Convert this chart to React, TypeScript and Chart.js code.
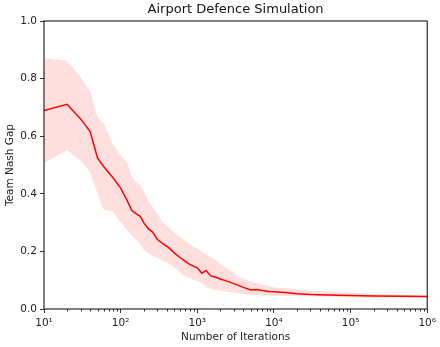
import React, { useEffect, useRef } from "react";
import { Chart, registerables } from "chart.js";

Chart.register(...registerables);

const TITLE = "Airport Defence Simulation";
const X_LABEL = "Number of Iterations";
const Y_LABEL = "Team Nash Gap";

const iterations = [
  10, 20, 30, 40, 50, 60, 80, 100, 120, 140, 160, 180, 200, 230, 260, 300, 350, 420, 500, 600,
  700, 800, 900, 1000, 1150, 1300, 1500, 1750, 2000, 2500, 3000, 3500, 4000, 5000, 6000, 7000,
  8500, 10000, 14000, 20000, 30000, 50000, 100000, 200000, 500000, 1000000,
];

const meanGap = [
  0.689, 0.711, 0.66, 0.616, 0.524, 0.495, 0.455, 0.42, 0.38, 0.342, 0.33, 0.322, 0.3, 0.278,
  0.268, 0.242, 0.228, 0.214, 0.195, 0.178, 0.165, 0.155, 0.148, 0.143, 0.124, 0.134, 0.115,
  0.11, 0.104, 0.096, 0.088, 0.081, 0.075, 0.066, 0.068, 0.064, 0.061, 0.06, 0.057, 0.053, 0.05,
  0.049, 0.047, 0.045, 0.044, 0.043,
];

const upperGap = [
  0.87, 0.862, 0.805, 0.755, 0.665, 0.645, 0.57, 0.535, 0.51, 0.46, 0.44, 0.43, 0.41, 0.375,
  0.355, 0.33, 0.305, 0.285, 0.265, 0.25, 0.235, 0.225, 0.215, 0.21, 0.2, 0.19, 0.18, 0.17,
  0.155, 0.14, 0.125, 0.112, 0.105, 0.095, 0.09, 0.085, 0.08, 0.075, 0.072, 0.068, 0.064, 0.06,
  0.056, 0.052, 0.049, 0.047,
];

const lowerGap = [
  0.507, 0.552, 0.515, 0.475, 0.4, 0.345, 0.338, 0.3, 0.275, 0.255, 0.24, 0.225, 0.205, 0.195,
  0.185, 0.178, 0.168, 0.16, 0.145, 0.125, 0.113, 0.108, 0.1, 0.096, 0.093, 0.075, 0.07, 0.066,
  0.063, 0.06, 0.057, 0.055, 0.053, 0.05, 0.049, 0.048, 0.047, 0.046, 0.045, 0.045, 0.044, 0.043,
  0.041, 0.04, 0.039, 0.039,
];

const yTicks = [0, 0.2, 0.4, 0.6, 0.8, 1.0];
const xMajorTicks = [10, 100, 1000, 10000, 100000, 1000000];
const SUP: Record<string, string> = { "1": "¹", "2": "²", "3": "³", "4": "⁴", "5": "⁵", "6": "⁶" };

const FONT = "'DejaVu Sans', sans-serif";

function isMajor(v: number) {
  return xMajorTicks.some((m) => Math.abs(m - v) < 1e-6 * m);
}

function allXTicks() {
  const out: number[] = [];
  for (let d = 0; d < xMajorTicks.length; d++) {
    const base = xMajorTicks[d];
    out.push(base);
    if (d < xMajorTicks.length - 1) for (let k = 2; k <= 9; k++) out.push(base * k);
  }
  return out;
}

export default function App() {
  const ref = useRef<HTMLCanvasElement | null>(null);
  useEffect(() => {
    document.body.style.margin = "0";
    const canvas = ref.current!;
    const framePlugin = {
      id: "frame",
      afterDatasetsDraw(chart: any) {
        const { ctx, chartArea } = chart;
        const xs = chart.scales.x;
        ctx.save();
        ctx.strokeStyle = "#000";
        ctx.lineWidth = 1;
        ctx.strokeRect(chartArea.left, chartArea.top, chartArea.right - chartArea.left, chartArea.bottom - chartArea.top);
        ctx.lineWidth = 0.8;
        for (const v of allXTicks()) {
          if (isMajor(v)) continue;
          const px = Math.round(xs.getPixelForValue(v)) + 0.5;
          ctx.beginPath();
          ctx.moveTo(px, chartArea.bottom);
          ctx.lineTo(px, chartArea.bottom + 2.5);
          ctx.stroke();
        }
        ctx.restore();
      },
      afterDraw(chart: any) {
        const { ctx, chartArea } = chart;
        ctx.save();
        ctx.fillStyle = "#111";
        ctx.font = `13px ${FONT}`;
        ctx.textAlign = "center";
        ctx.textBaseline = "middle";
        ctx.fillText(TITLE, (chartArea.left + chartArea.right) / 2, 10);
        ctx.restore();
      },
    };

    const chart = new Chart(canvas, {
      type: "line",
      data: {
        labels: iterations,
        datasets: [
          {
            label: "upper",
            data: iterations.map((x, i) => ({ x, y: upperGap[i] })),
            borderWidth: 0,
            borderColor: "rgba(255,0,0,0)",
            backgroundColor: "rgba(255,0,0,0.13)",
            pointRadius: 0,
            fill: "+1",
          },
          {
            label: "lower",
            data: iterations.map((x, i) => ({ x, y: lowerGap[i] })),
            borderWidth: 0,
            borderColor: "rgba(255,0,0,0)",
            pointRadius: 0,
            fill: false,
          },
          {
            label: "mean",
            data: iterations.map((x, i) => ({ x, y: meanGap[i] })),
            borderColor: "#ff0000",
            borderWidth: 1.5,
            pointRadius: 0,
            fill: false,
            tension: 0,
          },
        ],
      },
      plugins: [framePlugin],
      options: {
        responsive: false,
        animation: false,
        layout: { padding: { top: 21, right: 11, left: 0, bottom: 0 } },
        plugins: {
          legend: { display: false },
          title: { display: false },
          tooltip: { enabled: false },
        },
        scales: {
          x: {
            type: "logarithmic",
            min: 10,
            max: 1000000,
            afterBuildTicks(scale: any) {
              scale.ticks = allXTicks().map((v) => ({ value: v, major: isMajor(v) }));
            },
            afterFit(scale: any) {
              scale.height = 38;
            },
            border: { display: false },
            grid: {
              drawOnChartArea: false,
              drawTicks: true,
              tickLength: 4,
              tickColor: (ctx: any) => (ctx.tick && isMajor(ctx.tick.value) ? "#000" : "rgba(0,0,0,0)"),
              tickWidth: 0.8,
            },
            ticks: {
              autoSkip: false,
              maxRotation: 0,
              padding: 4,
              color: "#222",
              font: { family: FONT, size: 10.5 },
              callback: (v: any) => {
                const n = Number(v);
                if (!isMajor(n)) return "";
                const e = String(Math.round(Math.log10(n)));
                return "10" + e.split("").map((c) => SUP[c] || c).join("");
              },
            },
            title: {
              display: true,
              text: X_LABEL,
              color: "#222",
              font: { family: FONT, size: 10.5 },
              padding: { top: 0, bottom: 3 },
            },
          },
          y: {
            type: "linear",
            min: 0,
            max: 1,
            afterBuildTicks(scale: any) {
              scale.ticks = yTicks.map((v) => ({ value: v }));
            },
            afterFit(scale: any) {
              scale.width = 44;
            },
            border: { display: false },
            grid: {
              drawOnChartArea: false,
              drawTicks: true,
              tickLength: 4,
              tickColor: "#000",
              tickWidth: 0.8,
            },
            ticks: {
              padding: 3,
              color: "#222",
              font: { family: FONT, size: 10.5 },
              callback: (v: any) => Number(v).toFixed(1),
            },
            title: {
              display: true,
              text: Y_LABEL,
              color: "#222",
              font: { family: FONT, size: 10.5 },
              padding: { top: 4, bottom: 2 },
            },
          },
        },
      },
    } as any);
    return () => chart.destroy();
  }, []);
  return <canvas ref={ref} width={440} height={347} style={{ display: "block" }} />;
}
